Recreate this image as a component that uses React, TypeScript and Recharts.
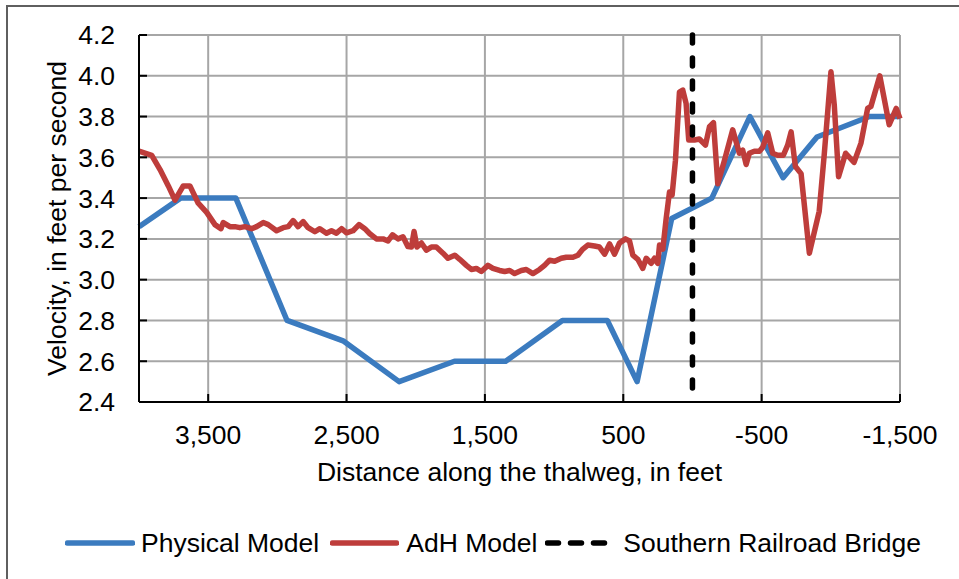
import React from 'react';
import { LineChart, Line, XAxis, YAxis, CartesianGrid } from 'recharts';

// Physical model, velocity along the thalweg
const physicalDist = [4000, 3700, 3300, 2930, 2525, 2120, 1720, 1350, 940, 615, 400, 150, -140, -415, -655, -900, -1280, -1500];
const physicalVel = [3.26, 3.4, 3.4, 2.8, 2.7, 2.5, 2.6, 2.6, 2.8, 2.8, 2.5, 3.3, 3.4, 3.8, 3.5, 3.7, 3.8, 3.8];

// AdH model, velocity along the thalweg
const adhDist = [
  4000, 3908, 3848, 3788, 3740, 3680, 3632, 3572, 3511, 3451, 3408, 3391, 3343, 3307, 3271, 3235, 3186, 3150, 3102, 3066,
  3006, 2958, 2922, 2886, 2850, 2814, 2778, 2729, 2693, 2645, 2609, 2573, 2536, 2500, 2453, 2410, 2368, 2332, 2284, 2236,
  2200, 2168, 2128, 2092, 2056, 2031, 2012, 1991, 1959, 1923, 1887, 1851, 1803, 1767, 1718, 1682, 1634, 1598, 1562, 1526,
  1478, 1442, 1394, 1357, 1321, 1285, 1237, 1201, 1153, 1105, 1069, 1033, 996, 948, 912, 864, 828, 792, 756, 708,
  672, 635, 599, 563, 527, 484, 455, 431, 395, 359, 334, 298, 274, 251, 238, 214, 190, 166, 147, 123,
  94, 70, 46, 27, -14, -50, -94, -123, -152, -183, -231, -291, -339, -363, -388, -411, -447, -484, -508, -544,
  -580, -616, -657, -688, -713, -744, -785, -845, -916, -952, -1001, -1025, -1056, -1107, -1168, -1218, -1266, -1290, -1354, -1422,
  -1473, -1500,
];
const adhVel = [
  3.63, 3.61, 3.54, 3.46, 3.39, 3.46, 3.46, 3.375, 3.33, 3.27, 3.25, 3.28, 3.26, 3.26, 3.255, 3.26, 3.25, 3.26, 3.28, 3.27,
  3.24, 3.255, 3.26, 3.29, 3.26, 3.285, 3.255, 3.235, 3.25, 3.228, 3.24, 3.228, 3.25, 3.23, 3.24, 3.27, 3.25, 3.225, 3.2, 3.2,
  3.19, 3.22, 3.2, 3.21, 3.162, 3.16, 3.236, 3.16, 3.18, 3.145, 3.16, 3.16, 3.13, 3.105, 3.12, 3.1, 3.07, 3.05, 3.055, 3.04,
  3.07, 3.055, 3.045, 3.04, 3.045, 3.03, 3.045, 3.05, 3.03, 3.05, 3.07, 3.095, 3.09, 3.105, 3.11, 3.11, 3.12, 3.15, 3.17, 3.165,
  3.16, 3.125, 3.175, 3.125, 3.18, 3.2, 3.19, 3.12, 3.1, 3.055, 3.105, 3.08, 3.105, 3.08, 3.17, 3.15, 3.3, 3.43, 3.415, 3.585,
  3.92, 3.93, 3.865, 3.685, 3.685, 3.69, 3.66, 3.75, 3.77, 3.47, 3.585, 3.735, 3.62, 3.635, 3.565, 3.62, 3.63, 3.63, 3.65, 3.72,
  3.62, 3.61, 3.61, 3.66, 3.725, 3.555, 3.52, 3.13, 3.335, 3.61, 4.02, 3.857, 3.505, 3.62, 3.575, 3.67, 3.84, 3.85, 4.0, 3.76,
  3.84, 3.79,
];

// Southern Railroad Bridge station, drawn top to bottom of the velocity range
const bridgeDist = [0, 0];
const bridgeVel = [4.2, 2.4];

const xTicks = [3500, 2500, 1500, 500, -500, -1500];
const yTicks = [2.4, 2.6, 2.8, 3.0, 3.2, 3.4, 3.6, 3.8, 4.0, 4.2];

const physicalData = physicalDist.map((x, i) => ({ x, v: physicalVel[i] }));
const adhData = adhDist.map((x, i) => ({ x, v: adhVel[i] }));
const bridgeData = bridgeDist.map((x, i) => ({ x, v: bridgeVel[i] }));

const FONT = '"Liberation Sans", Arial, sans-serif';
const FS = 26.5;
const BLUE = '#3b7bbf';
const RED = '#be3d3b';
const GRID = '#a6a6a6';
const LW = 5.5;
const TICK_LEN = 8;
const X_GAP = 23;
const Y_GAP = 24;

const fmtDist = (v: number) => v.toLocaleString('en-US');

const XTick = (props: any) => {
  const { x, y, payload } = props;
  const axisY = y - X_GAP;
  return (
    <g>
      <line x1={x} x2={x} y1={axisY} y2={axisY - TICK_LEN} stroke="#000" strokeWidth={2} />
      <text x={x} y={y} dy="0.71em" textAnchor="middle" fontSize={FS} fontFamily={FONT} fill="#000">
        {fmtDist(payload.value)}
      </text>
    </g>
  );
};

const YTick = (props: any) => {
  const { x, y, payload } = props;
  const axisX = x + Y_GAP;
  return (
    <g>
      <line x1={axisX} x2={axisX + TICK_LEN} y1={y} y2={y} stroke="#000" strokeWidth={2} />
      <text x={x} y={y} dy="0.355em" textAnchor="end" fontSize={FS} fontFamily={FONT} fill="#000">
        {Number(payload.value).toFixed(1)}
      </text>
    </g>
  );
};

const Swatch = ({ color, width, dash }: { color: string; width: number; dash?: string }) => (
  <svg width={width} height={10} style={{ display: 'block' }}>
    <line x1={2.5} x2={width - 2.5} y1={5} y2={5} stroke={color} strokeWidth={LW} strokeLinecap="round" strokeDasharray={dash} />
  </svg>
);

export default function App() {
  return (
    <div style={{ position: 'absolute', left: 0, top: 0, width: 959, height: 579, overflow: 'hidden', background: '#fff', fontFamily: FONT }}>
      <div style={{ position: 'absolute', left: 6, top: 5, width: 2000, height: 2000, border: '2px solid #5f5f5f' }} />
      <div style={{ position: 'absolute', left: 0, top: 0 }}>
        <LineChart width={959} height={579} margin={{ top: 35, right: 59, bottom: 97, left: 0 }}>
          <CartesianGrid stroke={GRID} strokeWidth={2} />
          <XAxis
            dataKey="x"
            type="number"
            domain={[-1500, 4000]}
            reversed
            ticks={xTicks}
            interval={0}
            height={80}
            tickSize={0}
            tickMargin={X_GAP}
            tickLine={false}
            tick={(p: any) => <XTick {...p} />}
            axisLine={{ stroke: '#000', strokeWidth: 2 }}
            label={{ value: 'Distance along the thalweg, in feet', position: 'insideBottom', offset: 1, fontSize: FS, fontFamily: FONT, fill: '#000' }}
          />
          <XAxis
            xAxisId="top"
            orientation="top"
            dataKey="x"
            type="number"
            domain={[-1500, 4000]}
            reversed
            height={0}
            tick={false}
            tickLine={false}
            axisLine={{ stroke: '#000', strokeWidth: 2 }}
          />
          <YAxis
            type="number"
            domain={[2.4, 4.2]}
            ticks={yTicks}
            interval={0}
            width={139}
            tickSize={0}
            tickMargin={Y_GAP}
            tickLine={false}
            tick={(p: any) => <YTick {...p} />}
            axisLine={{ stroke: '#000', strokeWidth: 2 }}
            label={{
              value: 'Velocity, in feet per second',
              angle: -90,
              position: 'insideLeft',
              offset: 57,
              fontSize: FS,
              fontFamily: FONT,
              fill: '#000',
              style: { textAnchor: 'middle' },
            }}
          />
          <YAxis
            yAxisId="right"
            orientation="right"
            type="number"
            domain={[2.4, 4.2]}
            width={0}
            tick={false}
            tickLine={false}
            axisLine={{ stroke: '#000', strokeWidth: 2 }}
          />
          <Line
            data={physicalData}
            dataKey="v"
            name="Physical Model"
            type="linear"
            stroke={BLUE}
            strokeWidth={LW}
            strokeLinejoin="round"
            dot={false}
            isAnimationActive={false}
          />
          <Line
            data={adhData}
            dataKey="v"
            name="AdH Model"
            type="linear"
            stroke={RED}
            strokeWidth={LW}
            strokeLinejoin="round"
            dot={false}
            isAnimationActive={false}
          />
          <Line
            data={bridgeData}
            dataKey="v"
            name="Southern Railroad Bridge"
            type="linear"
            stroke="#000"
            strokeWidth={LW}
            strokeDasharray="8 15"
            strokeLinecap="round"
            dot={false}
            isAnimationActive={false}
          />
        </LineChart>
      </div>
      <div
        style={{
          position: 'absolute',
          left: 65,
          top: 528,
          height: 30,
          display: 'flex',
          alignItems: 'center',
          fontSize: FS,
          lineHeight: '30px',
          color: '#000',
          whiteSpace: 'nowrap',
        }}
      >
        <Swatch color={BLUE} width={70} />
        <span style={{ marginLeft: 6 }}>Physical Model</span>
        <span style={{ marginLeft: 11 }}>
          <Swatch color={RED} width={69} />
        </span>
        <span style={{ marginLeft: 7 }}>AdH Model</span>
        <span style={{ marginLeft: 8 }}>
          <Swatch color="#000" width={63} dash="11 12" />
        </span>
        <span style={{ marginLeft: 15 }}>Southern Railroad Bridge</span>
      </div>
    </div>
  );
}
